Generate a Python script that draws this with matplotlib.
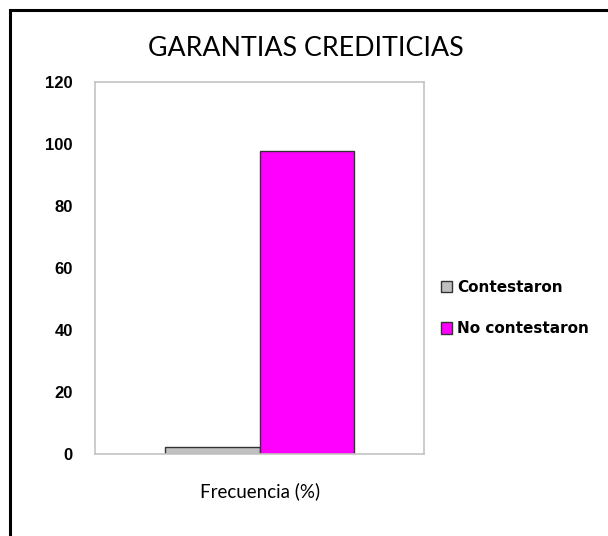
import numpy as np
import matplotlib
matplotlib.use("Agg")
from matplotlib import pyplot as plt
from matplotlib.patches import Rectangle

### datos
categoria = ['Frecuencia (%)']
series = ['Contestaron', 'No contestaron']
valores = [2.4, 97.6]
colores = ['#c0c0c0', '#ff00ff']
yticks = [0, 20, 40, 60, 80, 100, 120]

plt.rcParams['font.family'] = ['Liberation Sans', 'DejaVu Sans']

fig = plt.figure(figsize=(6.08, 5.36), dpi=100)
ax = fig.add_axes([95/608, 82/536, 329/608, 372/536])

ancho = 0.287
x = np.arange(len(categoria))
barras = []
for i, (s, v, c) in enumerate(zip(series, valores, colores)):
    b = ax.bar(x + (i - 0.5) * ancho, [v], ancho, color=c,
               edgecolor='#333333', linewidth=1.0, label=s)
    barras.append(b)

ax.set_xlim(-0.5, 0.5)
ax.set_ylim(0, 120)
ax.set_yticks(yticks)
ax.set_yticklabels([str(t) for t in yticks], fontsize=12, fontweight='bold')
ax.tick_params(axis='y', length=0, pad=16)
ax.set_xticks([])
for sp in ax.spines.values():
    sp.set_color('#c4c4c4')
    sp.set_linewidth(1.2)

fig.text(260/608, 1 - 491/536, categoria[0], ha='center', va='center',
         fontsize=13.5, family=['Lato', 'DejaVu Sans'])
fig.text(306/608, 1 - 48/536, 'GARANTIAS CREDITICIAS', ha='center', va='center',
         fontsize=19.3, family=['Lato', 'DejaVu Sans'])

fig.legend(handles=barras, labels=series, loc='center left',
           bbox_to_anchor=(427/608, 1 - 308/536), frameon=False,
           prop={'weight': 'bold', 'size': 11, 'family': 'DejaVu Sans'},
           handlelength=0.75, handleheight=0.75, handletextpad=0.3,
           labelspacing=1.75)

# marco exterior (solo visible arriba y a la izquierda)
fig.patches.append(Rectangle((10/608, -0.1), 1.2, 1 - 10/536 + 0.1,
                             transform=fig.transFigure, fill=False,
                             edgecolor='black', linewidth=2.2, clip_on=False))

plt.savefig('out.png', dpi=100)
